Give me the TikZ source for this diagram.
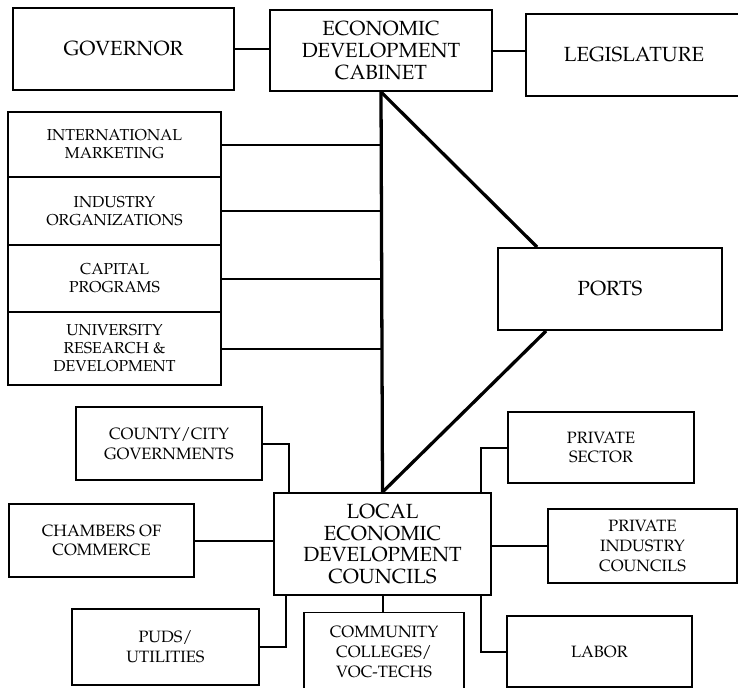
\documentclass[tikz,border=0pt]{standalone}
\usepackage[T1]{fontenc}
\usepackage{mathpazo}
\usetikzlibrary{positioning,calc}

\begin{document}
\begin{tikzpicture}[x=0.03cm,y=-0.03cm,line width=1.7pt,
    box/.style={draw,line width=1.6pt,align=center,inner sep=2pt},
    big/.style={box,font=\fontsize{17.5}{18.5}\selectfont},
    mid/.style={box,font=\fontsize{13.5}{15.5}\selectfont,minimum width=6.39cm,outer sep=0pt},
    sml/.style={box,font=\fontsize{14}{17}\selectfont},
    spoke/.style={line width=2.8pt}]
  \clip (0,0) rectangle (738,687);
  % state level
  \node[big,minimum width=6.63cm,minimum height=2.46cm] (gov) at (123.5,49) {GOVERNOR};
  \node[big,minimum width=6.66cm,minimum height=2.43cm] (cab) at (381,50.5) {ECONOMIC\\DEVELOPMENT\\CABINET};
  \node[big,minimum width=6.48cm,minimum height=2.46cm] (leg) at (634,55) {LEGISLATURE};
  \draw (gov) -- (gov -| cab.west);
  \draw (cab.east) -- (cab.east -| leg.west);
  % programs stacked on the left
  \node[mid,minimum height=1.95cm] (im) at (114.5,144.5) {INTERNATIONAL\\MARKETING};
  \node[mid,minimum height=2.04cm,below=0pt of im] (io) {INDUSTRY\\ORGANIZATIONS};
  \node[mid,minimum height=2.01cm,below=0pt of io] (cp) {CAPITAL\\PROGRAMS};
  \node[mid,minimum height=2.19cm,below=0pt of cp] (ur) {UNIVERSITY\\RESEARCH \&\\DEVELOPMENT};
  % local councils and ports
  \node[big,minimum width=6.51cm,minimum height=3.06cm] (ledc) at (382.5,544) {LOCAL\\ECONOMIC\\DEVELOPMENT\\COUNCILS};
  \node[big,minimum width=6.72cm,minimum height=2.46cm] (ports) at (610,289) {PORTS};
  \draw[spoke] (cab.south) -- (ledc.north);
  \draw[spoke] (cab.south) -- ($(ports.north west)+(40,0)$);
  \draw[spoke] ($(ports.south west)+(49,0)$) -- (ledc.north);
  \foreach \b in {im,io,cp,ur} \draw (\b) -- (\b -| cab.south);
  % local partners
  \node[sml,minimum width=5.58cm,minimum height=2.19cm] (county) at (169,443.5) {COUNTY/CITY\\GOVERNMENTS};
  \node[sml,minimum width=5.58cm,minimum height=2.13cm] (psec) at (601,447.5) {PRIVATE\\SECTOR};
  \node[sml,minimum width=5.55cm,minimum height=2.19cm] (chamb) at (101.5,540.5) {CHAMBERS OF\\COMMERCE};
  \node[sml,minimum width=5.67cm,minimum height=2.22cm] (pic) at (642.5,546) {PRIVATE\\INDUSTRY\\COUNCILS};
  \node[sml,minimum width=5.61cm,minimum height=2.28cm] (puds) at (165.5,647) {PUDS/\\UTILITIES};
  \node[sml,minimum width=4.8cm,minimum height=2.37cm] (comm) at (384,652) {COMMUNITY\\COLLEGES/\\VOC-TECHS};
  \node[sml,minimum width=5.55cm,minimum height=2.13cm] (labor) at (599.5,651.5) {LABOR};
  \draw (county.east) -| ($(ledc.north west)+(16,0)$);
  \draw ($(ledc.north east)+(-11,0)$) |- (psec.west);
  \draw (chamb) -- (chamb -| ledc.west);
  \draw (pic) -- (pic -| ledc.east);
  \draw ($(ledc.south west)+(13,0)$) |- (puds.east);
  \draw (ledc.south) -- (ledc.south |- comm.north);
  \draw ($(ledc.south east)+(-11,0)$) |- (labor.west);
\end{tikzpicture}
\end{document}
